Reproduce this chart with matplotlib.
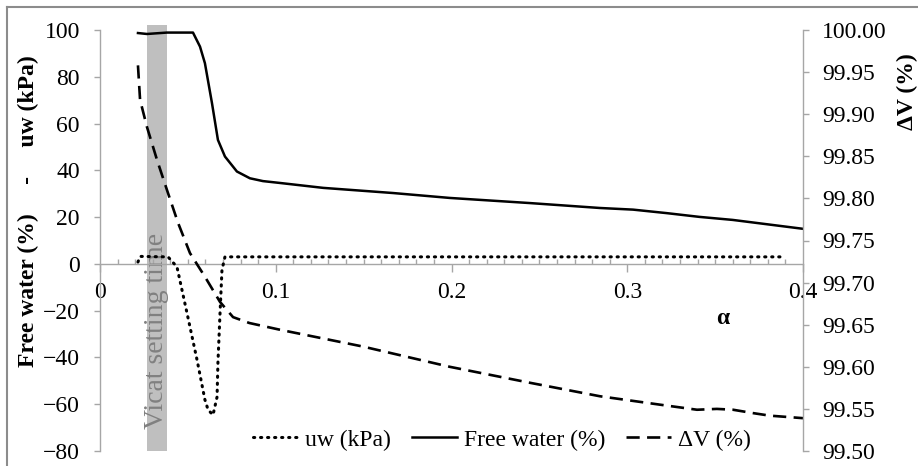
import numpy as np
import matplotlib.pyplot as plt
from matplotlib.lines import Line2D
from matplotlib.ticker import MultipleLocator, FixedLocator

plt.rcParams['font.family'] = ['Liberation Serif', 'DejaVu Serif']

# ===== data =====
alpha_fw = [0.0216, 0.0267, 0.0381, 0.0529, 0.0569, 0.0597, 0.0637, 0.0671, 0.0711,
            0.0779, 0.0853, 0.0927, 0.1024, 0.127, 0.1667, 0.199, 0.2447, 0.2845,
            0.3033, 0.3225, 0.341, 0.36, 0.4]
free_water = [98.7, 98.3, 98.9, 98.9, 92.9, 85.8, 68.8, 53.0, 45.9,
              39.5, 36.6, 35.4, 34.6, 32.5, 30.3, 28.2, 26.0, 23.9,
              23.2, 21.7, 20.1, 18.8, 15.0]

alpha_uw = [0.0216, 0.0228, 0.0387, 0.0438, 0.0495, 0.0552, 0.0597, 0.0615, 0.0643,
            0.0666, 0.0671, 0.0683, 0.0694, 0.0711, 0.39]
uw = [0.8, 3.2, 3.0, -1.3, -21.0, -41.0, -58.1, -62.4, -64.6,
      -56.9, -42.3, -21.0, -2.6, 3.0, 3.0]

alpha_dv = [0.0216, 0.0228, 0.0267, 0.0324, 0.0381, 0.0444, 0.0512, 0.0597, 0.0683,
            0.0757, 0.085, 0.1024, 0.1497, 0.199, 0.2447, 0.2845, 0.3187, 0.3397,
            0.351, 0.3602, 0.3716, 0.381, 0.4]
dv = [99.958, 99.917, 99.885, 99.846, 99.810, 99.771, 99.735, 99.707, 99.677,
      99.659, 99.652, 99.644, 99.624, 99.600, 99.581, 99.565, 99.555, 99.549,
      99.550, 99.549, 99.545, 99.542, 99.539]

vicat_start = 0.0267
vicat_end = 0.0381

x_ticks = [0, 0.1, 0.2, 0.3, 0.4]
x_labels = ["0", "0.1", "0.2", "0.3", "0.4"]
left_ticks = [-80, -60, -40, -20, 0, 20, 40, 60, 80, 100]
right_ticks = [99.50, 99.55, 99.60, 99.65, 99.70, 99.75, 99.80, 99.85, 99.90, 99.95, 100.00]

GRAY = "#a6a6a6"
FS = 17

fig = plt.figure(figsize=(9.18, 4.66), dpi=100)
ax = fig.add_axes([100 / 918, 1 - 451 / 466, 703 / 918, 421 / 466])
ax2 = ax.twinx()

# Vicat band
ax.bar((vicat_start + vicat_end) / 2, 182, bottom=-80, width=vicat_end - vicat_start,
       color="#bfbfbf", zorder=1, clip_on=False)
ax.text((vicat_start + vicat_end) / 2, -28.5, "Vicat setting time", rotation=90,
        ha="center", va="center", fontsize=20, color="#808080", zorder=2)

l_uw, = ax.plot(alpha_uw, uw, color="black", lw=2.2, linestyle=(0, (0.4, 1.9)),
                dash_capstyle="round", zorder=3, label="uw (kPa)")
l_fw, = ax.plot(alpha_fw, free_water, color="black", lw=1.8, zorder=3,
                label="Free water (%)")
l_dv, = ax2.plot(alpha_dv, dv, color="black", lw=1.9, linestyle=(0, (5, 2.8)),
                 label="ΔV (%)")

ax.set_xlim(0, 0.4)
ax.set_ylim(-80, 100)
ax2.set_ylim(99.5, 100)

for a in (ax, ax2):
    a.spines["top"].set_visible(False)
    for s in ("left", "right", "bottom"):
        a.spines[s].set_color(GRAY)
        a.spines[s].set_linewidth(1.0)
ax.spines["right"].set_visible(False)
ax2.spines["left"].set_visible(False)
ax2.spines["bottom"].set_visible(False)
ax.spines["bottom"].set_position(("data", 0))

ax.xaxis.set_major_locator(FixedLocator(x_ticks))
ax.set_xticklabels(x_labels)
ax.xaxis.set_minor_locator(MultipleLocator(0.01))
ax.tick_params(axis="x", which="major", direction="out", length=6, width=1,
               color=GRAY, labelsize=FS, pad=7)
ax.tick_params(axis="x", which="minor", direction="in", length=3.5, width=1, color=GRAY)

ax.set_yticks(left_ticks)
ax.tick_params(axis="y", direction="out", length=4.5, width=1, color=GRAY,
               labelsize=FS, pad=10)
ax2.set_yticks(right_ticks)
ax2.set_yticklabels(["%.2f" % v for v in right_ticks])
ax2.tick_params(axis="y", direction="out", length=4.5, width=1, color=GRAY,
                labelsize=FS, pad=9)

# axis titles
fig.text(28 / 918, 1 - 211 / 466, "Free water (%)     -     uw (kPa)", rotation=90,
         ha="center", va="center", fontsize=FS, fontweight="bold")
fig.text(907 / 918, 1 - 92 / 466, "ΔV (%)", rotation=90,
         ha="center", va="center", fontsize=FS, fontweight="bold")
fig.text(723 / 918, 1 - 318 / 466, "α", ha="center", va="center",
         fontsize=FS, fontweight="bold")

fig.legend(handles=[l_uw, l_fw, l_dv], loc="center", ncol=3, frameon=False,
           bbox_to_anchor=(502 / 918, 1 - 440 / 466), fontsize=FS,
           handlelength=1.9, handletextpad=0.3, columnspacing=0.9)

# outer chart frame
fig.add_artist(Line2D([7 / 918, 1], [1 - 7 / 466, 1 - 7 / 466],
                      transform=fig.transFigure, color="#8c8c8c", lw=1.5))
fig.add_artist(Line2D([7 / 918, 7 / 918], [1 - 7 / 466, 0],
                      transform=fig.transFigure, color="#8c8c8c", lw=1.5))

fig.savefig("out.png", dpi=100)
